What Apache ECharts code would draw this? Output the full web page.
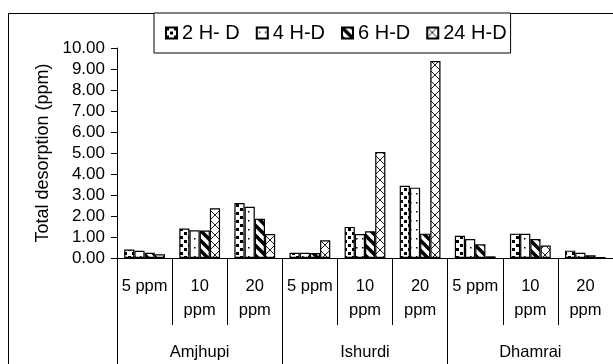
<!DOCTYPE html>
<html><head><meta charset="utf-8">
<script src="https://cdn.jsdelivr.net/npm/echarts@6/dist/echarts.min.js"></script>
<style>html,body{margin:0;padding:0;background:#fff}#c{width:613px;height:364px}</style>
</head><body><div id="c"></div>
<script>
// ---- data ----
const concentrations = ['5 ppm','10\nppm','20\nppm','5 ppm','10\nppm','20\nppm','5 ppm','10\nppm','20\nppm'];
const sites = ['Amjhupi','Ishurdi','Dhamrai'];
const seriesNames = ['2 H- D','4 H-D','6 H-D','24 H-D'];
const d2h  = [0.40, 1.40, 2.62, 0.25, 1.48, 3.44, 1.06, 1.16, 0.35];
const d4h  = [0.34, 1.32, 2.44, 0.25, 1.14, 3.35, 0.90, 1.15, 0.25];
const d6h  = [0.25, 1.31, 1.87, 0.24, 1.27, 1.16, 0.65, 0.90, 0.13];
const d24h = [0.18, 2.37, 1.14, 0.84, 5.05, 9.38, 0.08, 0.59, 0.03];
const yMin = 0, yMax = 10, yStep = 1;

// ---- patterns ----
function tile(w, h, draw) {
  const c = document.createElement('canvas');
  c.width = w; c.height = h;
  const g = c.getContext('2d');
  g.fillStyle = '#fff'; g.fillRect(0, 0, w, h);
  g.fillStyle = '#000'; g.strokeStyle = '#000';
  draw(g);
  return c;
}
const pat1 = tile(8, 8, g => { g.fillRect(0, 0, 3, 3); g.fillRect(4, 4, 3, 3); });
const pat2 = tile(6, 9, g => { g.fillRect(2, 4, 1.5, 1.5); });
const pat3 = tile(10, 10, g => {
  g.lineWidth = 3.5;
  for (const o of [-10, 0, 10]) { g.beginPath(); g.moveTo(o - 2, -2); g.lineTo(o + 12, 12); g.stroke(); }
});
const pat4 = tile(10, 10, g => {
  g.lineWidth = 1; g.strokeStyle = '#222';
  g.beginPath(); g.moveTo(0, 0); g.lineTo(10, 10); g.moveTo(10, 0); g.lineTo(0, 10); g.stroke();
});
const patterns = [pat1, pat2, pat3, pat4];
const values = [d2h, d4h, d6h, d24h];

const FONT = "'Liberation Sans', Arial, sans-serif";
const chart = echarts.init(document.getElementById('c'), null, {renderer: 'canvas'});
chart.setOption({
  animation: false,
  backgroundColor: '#fff',
  textStyle: {fontFamily: FONT, color: '#000'},
  graphic: [{
    type: 'rect', silent: true, z: -1,
    shape: {x: 8.5, y: 13.5, width: 700, height: 400},
    style: {fill: 'none', stroke: '#000', lineWidth: 1}
  }],
  legend: {
    data: seriesNames, left: 154, top: 13,
    icon: 'rect', itemWidth: 11, itemHeight: 11, itemGap: 16,
    padding: [10, 4, 10, 11],
    borderColor: '#000', borderWidth: 1, backgroundColor: '#fff',
    textStyle: {fontFamily: FONT, fontSize: 20, color: '#000'}
  },
  grid: {left: 117, top: 48, width: 501, height: 210},
  xAxis: [{
    type: 'category', data: concentrations, position: 'bottom',
    axisLine: {show: true, lineStyle: {color: '#000', width: 1}},
    axisTick: {show: true, interval: 0, length: 67, lineStyle: {color: '#000', width: 1}},
    axisLabel: {interval: 0, margin: 16, fontSize: 16.5, lineHeight: 24, color: '#000', fontFamily: FONT}
  }, {
    type: 'category', data: sites, position: 'bottom',
    axisLine: {show: false},
    axisTick: {show: true, interval: 0, length: 106, lineStyle: {color: '#000', width: 1}},
    axisLabel: {interval: 0, margin: 82, fontSize: 16.5, lineHeight: 24, color: '#000', fontFamily: FONT}
  }],
  yAxis: {
    type: 'value', min: yMin, max: yMax, interval: yStep,
    name: 'Total desorption (ppm)', nameLocation: 'middle', nameGap: 65,
    nameTextStyle: {fontSize: 18, color: '#000', fontFamily: FONT},
    axisLine: {show: true, lineStyle: {color: '#000'}},
    axisTick: {show: true, length: 6, lineStyle: {color: '#000'}},
    splitLine: {show: false},
    axisLabel: {margin: 12, fontSize: 17, color: '#000', fontFamily: FONT, formatter: v => v.toFixed(2)}
  },
  series: seriesNames.map((n, i) => ({
    name: n, type: 'bar', data: values[i],
    barGap: '0%', barCategoryGap: '26%',
    itemStyle: {color: {image: patterns[i], repeat: 'repeat'}, borderColor: '#000', borderWidth: 1.2}
  }))
});
</script>
</body></html>
